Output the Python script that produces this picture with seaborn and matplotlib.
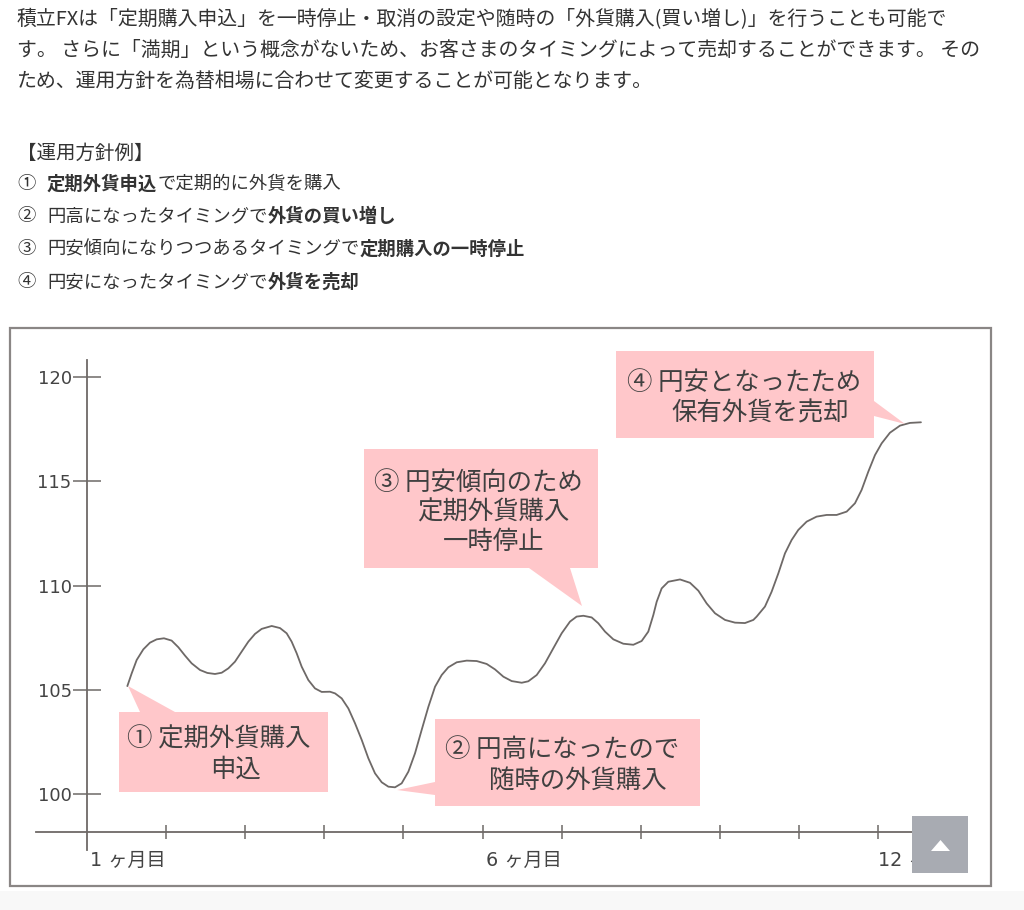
import matplotlib
matplotlib.use("Agg")
import matplotlib.pyplot as plt
from matplotlib.patches import Rectangle, Polygon
import seaborn as sns
import pandas as pd

# ---- data ----
months = [0.510, 0.565, 0.628, 0.712, 0.796, 0.881, 0.973, 1.070, 1.155, 1.239, 1.323, 1.429, 1.521, 1.618, 1.703,
          1.787, 1.871, 1.955, 2.040, 2.124, 2.208, 2.335, 2.440, 2.524, 2.587, 2.651, 2.714, 2.798, 2.882, 2.967,
          3.072, 3.136, 3.220, 3.304, 3.388, 3.473, 3.557, 3.641, 3.726, 3.810, 3.894, 3.978, 4.063, 4.147, 4.231,
          4.316, 4.400, 4.484, 4.568, 4.674, 4.800, 4.927, 5.053, 5.158, 5.264, 5.369, 5.496, 5.579, 5.685, 5.790,
          5.895, 6.001, 6.106, 6.190, 6.275, 6.380, 6.464, 6.549, 6.654, 6.780, 6.907, 7.012, 7.096, 7.160, 7.202,
          7.265, 7.349, 7.497, 7.623, 7.729, 7.834, 7.939, 8.066, 8.192, 8.318, 8.424, 8.466, 8.571, 8.655, 8.740,
          8.824, 8.908, 8.992, 9.098, 9.224, 9.351, 9.477, 9.604, 9.709, 9.793, 9.877, 9.962, 10.046, 10.151, 10.278,
          10.404, 10.543]
rate = [105.19, 105.80, 106.44, 106.95, 107.27, 107.43, 107.48, 107.37, 107.05, 106.65, 106.28, 105.96, 105.82, 105.77, 105.83,
        106.04, 106.36, 106.84, 107.32, 107.69, 107.93, 108.07, 107.97, 107.72, 107.32, 106.76, 106.12, 105.48, 105.08, 104.91,
        104.92, 104.84, 104.60, 104.12, 103.41, 102.61, 101.73, 101.01, 100.58, 100.37, 100.34, 100.53, 101.09, 101.97, 103.09,
        104.20, 105.16, 105.72, 106.09, 106.33, 106.41, 106.39, 106.25, 105.99, 105.64, 105.43, 105.35, 105.42, 105.72, 106.28,
        107.00, 107.72, 108.28, 108.52, 108.56, 108.48, 108.20, 107.80, 107.43, 107.22, 107.17, 107.35, 107.80, 108.60, 109.23,
        109.87, 110.19, 110.30, 110.14, 109.76, 109.15, 108.68, 108.36, 108.23, 108.21, 108.36, 108.52, 109.00, 109.71, 110.59,
        111.55, 112.19, 112.67, 113.07, 113.31, 113.39, 113.39, 113.55, 113.95, 114.59, 115.46, 116.26, 116.82, 117.33, 117.67,
        117.80, 117.83]
y_ticks = [100, 105, 110, 115, 120]
x_ticks = [1, 2, 3, 4, 5, 6, 7, 8, 9, 10]
x_labels = ["1 ヶ月目", "", "", "", "", "6 ヶ月目", "", "", "", "12 ヶ月目"]

para = ["積立FXは「定期購入申込」を一時停止・取消の設定や随時の「外貨購入(買い増し)」を行うことも可能で",
        "す。 さらに「満期」という概念がないため、お客さまのタイミングによって売却することができます。 その",
        "ため、運用方針を為替相場に合わせて変更することが可能となります。"]
policy_head = "【運用方針例】"
policy_marks = ["①", "②", "③", "④"]
policy_runs = [[("定期外貨申込", True), ("で定期的に外貨を購入", False)],
               [("円高になったタイミングで", False), ("外貨の買い増し", True)],
               [("円安傾向になりつつあるタイミングで", False), ("定期購入の一時停止", True)],
               [("円安になったタイミングで", False), ("外貨を売却", True)]]

W, H = 1024, 910
JP = ["Noto Sans CJK JP", "DejaVu Sans"]
sns.set_theme(style="white")
plt.rcParams["font.family"] = ["DejaVu Sans", "Noto Sans CJK JP"]

fig = plt.figure(figsize=(W / 100, H / 100), dpi=100, facecolor="white")
def fx(x): return x / W
def fy(y): return 1 - y / H
def rect(x0, y0, x1, y1, z=1, **kw):
    fig.add_artist(Rectangle((fx(x0), fy(y1)), fx(x1 - x0), (y1 - y0) / H, transform=fig.transFigure, zorder=z, **kw))
def poly(pts, z=1, **kw):
    fig.add_artist(Polygon([(fx(a), fy(b)) for a, b in pts], closed=True, transform=fig.transFigure, zorder=z, **kw))
def txt(x, y, s, size=13.2, color="#333333", weight="normal", z=6):
    fig.text(fx(x), fy(y), s, fontsize=size, color=color, family=JP, weight=weight, va="center", ha="left", zorder=z)

# page furniture
rect(0, 891, W, H, z=0, facecolor="#f8f8f8", edgecolor="none")
rect(10, 328, 991, 886, z=0.5, facecolor="white", edgecolor="#8a8685", linewidth=1.6)

# paragraph
for s, y in zip(para, [20, 50, 81]):
    txt(17, y, s, size=14.35)
txt(17, 153, policy_head, size=14)
CH = 18.4
for mark, runs, y in zip(policy_marks, policy_runs, [184, 216, 249, 282]):
    txt(17, y, mark)
    x = 47
    for s, bold in runs:
        txt(x, y, s, weight="bold" if bold else "normal")
        x += CH * len(s)

# axes
L, R, T, B = 36, 960, 360, 850
ax = fig.add_axes([fx(L), fy(B), (R - L) / W, (B - T) / H], zorder=2)
ax.patch.set_alpha(0)
PX_M, PX_Y = 79.1, 20.87
ax.set_xlim((L - 87) / PX_M, (R - 87) / PX_M)
ax.set_ylim(120 - (B - 377) / PX_Y, 120 - (T - 377) / PX_Y)
df = pd.DataFrame({"month": months, "rate": rate})
sns.lineplot(data=df, x="month", y="rate", ax=ax, color="#6e6967", linewidth=1.3, sort=False, estimator=None)
ax.set_xlabel(""); ax.set_ylabel("")
for s in ["top", "right"]:
    ax.spines[s].set_visible(False)
ax.spines["left"].set_position(("data", 0))
ax.spines["bottom"].set_position(("data", 120 - (832 - 377) / PX_Y))
for s in ["left", "bottom"]:
    ax.spines[s].set_color("#6e6967"); ax.spines[s].set_linewidth(1.3)
ax.set_yticks(y_ticks)
ax.set_xticks(x_ticks)
ax.set_xticklabels(x_labels)
ax.tick_params(axis="y", direction="inout", length=20, width=1.1, color="#6e6967", labelsize=13, labelcolor="#444444", pad=1, left=True)
ax.tick_params(axis="x", direction="inout", length=9.5, width=1.1, color="#6e6967", labelsize=13.8, labelcolor="#444444", pad=9, bottom=True)
for lab, t in zip(ax.get_xticklabels(), x_labels):
    lab.set_ha("left" if t.startswith("12") else "right")

# callouts
PINK = "#ffc7ca"
boxes = [((119, 712, 328, 792), [(128, 686), (140, 712), (175, 712)]),
         ((435, 719, 700, 806), [(397, 790), (435, 782), (435, 795)]),
         ((364, 449, 598, 568), [(529, 568), (570, 568), (582, 606)]),
         ((616, 351, 874, 438), [(874, 401), (874, 416), (905, 424)])]
for (x0, y0, x1, y1), tri in boxes:
    rect(x0, y0, x1, y1, z=3, facecolor=PINK, edgecolor="none")
    poly(tri, z=3, facecolor=PINK, edgecolor="none")
notes = [(127, 740, "① 定期外貨購入"), (210, 770, "申込"),
         (445, 750, "② 円高になったので"), (489, 781, "随時の外貨購入"),
         (374, 483, "③ 円安傾向のため"), (417, 513, "定期外貨購入"), (443, 542, "一時停止"),
         (627, 383, "④ 円安となったため"), (671, 413, "保有外貨を売却")]
for x, y, s in notes:
    txt(x, y, s, size=18.3, color="#404040")

# scroll-top button
rect(912, 816, 968, 873, z=7, facecolor="#a8abb2", edgecolor="none")
poly([(931, 851), (950, 851), (940.5, 840)], z=8, facecolor="white", edgecolor="none")

fig.savefig("out.png", dpi=100, facecolor="white")
